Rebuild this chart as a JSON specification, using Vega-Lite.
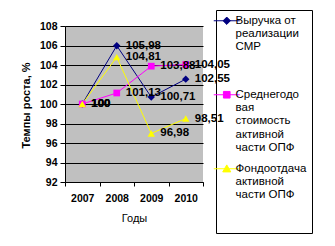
{
  "$schema": "https://vega.github.io/schema/vega-lite/v6.json",
  "width": 138,
  "height": 156,
  "autosize": {"type": "none"},
  "padding": {"left": 65, "top": 26, "right": 132, "bottom": 64},
  "background": "white",
  "config": {
    "locale": {"number": {"decimal": ",", "thousands": " ", "grouping": [3], "currency": ["", ""]}},
    "font": "Liberation Sans",
    "view": {"fill": "#C0C0C0", "stroke": null}
  },
  "data": {
    "values": [
      {"year": "2007", "series": "Выручка от реализации СМР", "value": 100},
      {"year": "2008", "series": "Выручка от реализации СМР", "value": 105.98},
      {"year": "2009", "series": "Выручка от реализации СМР", "value": 100.71},
      {"year": "2010", "series": "Выручка от реализации СМР", "value": 102.55},
      {"year": "2007", "series": "Среднегодовая стоимость активной части ОПФ", "value": 100},
      {"year": "2008", "series": "Среднегодовая стоимость активной части ОПФ", "value": 101.13},
      {"year": "2009", "series": "Среднегодовая стоимость активной части ОПФ", "value": 103.88},
      {"year": "2010", "series": "Среднегодовая стоимость активной части ОПФ", "value": 104.05},
      {"year": "2007", "series": "Фондоотдача активной части ОПФ", "value": 100},
      {"year": "2008", "series": "Фондоотдача активной части ОПФ", "value": 104.81},
      {"year": "2009", "series": "Фондоотдача активной части ОПФ", "value": 96.98},
      {"year": "2010", "series": "Фондоотдача активной части ОПФ", "value": 98.51}
    ]
  },
  "encoding": {
    "x": {
      "field": "year", "type": "ordinal",
      "scale": {"paddingInner": 0, "paddingOuter": 0},
      "axis": {
        "title": "Годы", "titleFontWeight": "normal", "titleFontSize": 11, "titleColor": "black", "titlePadding": 9,
        "labelAngle": 0, "labelFontSize": 10.5, "labelFontWeight": "bold", "labelColor": "black", "labelPadding": 7,
        "tickBand": "extent", "tickColor": "black", "tickSize": 4, "domainColor": "black", "grid": false
      }
    },
    "y": {
      "field": "value", "type": "quantitative",
      "scale": {"domain": [92, 108], "nice": false, "zero": false},
      "axis": {
        "title": "Темпы роста, %", "titleFontWeight": "bold", "titleFontSize": 11, "titleColor": "black",
        "titleX": -34, "titleY": 79,
        "values": [92, 94, 96, 98, 100, 102, 104, 106, 108],
        "labelFontSize": 10.5, "labelFontWeight": "bold", "labelColor": "black", "labelPadding": 3,
        "tickColor": "black", "tickSize": 5, "domainColor": "black",
        "grid": true, "gridColor": "black", "gridOpacity": 1
      }
    },
    "color": {
      "field": "series", "type": "nominal",
      "scale": {
        "domain": ["Выручка от реализации СМР", "Среднегодовая стоимость активной части ОПФ", "Фондоотдача активной части ОПФ"],
        "range": ["#000080", "#FF00FF", "#FFFF00"]
      },
      "legend": {
        "title": null,
        "orient": "none", "legendX": 151, "legendY": -16,
        "direction": "vertical", "columns": 1, "gridAlign": "all",
        "padding": 5, "rowPadding": 8,
        "strokeColor": "black",
        "symbolSize": 676, "symbolStrokeWidth": 1, "symbolType": "M-1,0H1M0,-0.27L0.27,0L0,0.27L-0.27,0Z",
        "labelFontSize": 11.5, "labelColor": "black", "labelOffset": 3, "labelBaseline": "top", "labelLimit": 0,
        "labelExpr": "datum.label == 'Выручка от реализации СМР' ? ['Выручка от', 'реализации', 'СМР', '', ''] : datum.label == 'Фондоотдача активной части ОПФ' ? ['Фондоотдача', 'активной', 'части ОПФ', '', ''] : ['Среднегодо', 'вая', 'стоимость', 'активной', 'части ОПФ']",
        "encoding": {
          "symbols": {
            "size": {"value": 49},
            "shape": {"value": {"expr": "datum.value == 'Выручка от реализации СМР' ? 'M-3.71,0H3.71M0,-1.05L1.05,0L0,1.05L-1.05,0Z' : datum.value == 'Фондоотдача активной части ОПФ' ? 'M-3.71,0H3.71M0,-1.1L1.15,0.9H-1.15Z' : 'M-3.71,0H3.71M-0.95,-0.95H0.95V0.95H-0.95Z'"}}
          },
          "labels": {
            "dy": {"value": -6},
            "lineHeight": {"value": 13.3}
          }
        }
      }
    }
  },
  "layer": [
    {
      "mark": {"type": "line", "strokeWidth": 1}
    },
    {
      "transform": [{"filter": "datum.series == 'Выручка от реализации СМР'"}],
      "mark": {"type": "point", "filled": true, "opacity": 1, "size": 55, "shape": "diamond"}
    },
    {
      "transform": [{"filter": "datum.series == 'Среднегодовая стоимость активной части ОПФ'"}],
      "mark": {"type": "point", "filled": true, "opacity": 1, "size": 45, "shape": "square"}
    },
    {
      "transform": [{"filter": "datum.series == 'Фондоотдача активной части ОПФ'"}],
      "mark": {"type": "point", "filled": true, "opacity": 1, "size": 55, "shape": "triangle-up"}
    },
    {
      "mark": {"type": "text", "align": "left", "baseline": "middle", "dx": 9, "fontSize": 11.5, "fontWeight": "bold", "color": "black"},
      "encoding": {
        "text": {"field": "value", "type": "quantitative", "format": ".2~f"},
        "color": {"value": "black"}
      }
    }
  ]
}
